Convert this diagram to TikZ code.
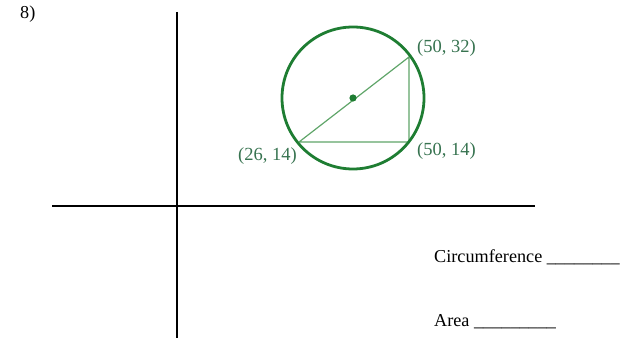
\documentclass[tikz,border=0pt]{standalone}
\usepackage{fontspec}
\setmainfont{Liberation Serif}
\definecolor{circgreen}{RGB}{30,125,50}
\definecolor{linegreen}{RGB}{95,165,105}
\definecolor{labgreen}{RGB}{55,115,80}
\begin{document}
\begin{tikzpicture}[x=1pt,y=-1pt,
  axis/.style={line width=2.8pt,black},
  lab/.style={font=\fontsize{18.5}{21}\selectfont,text=labgreen,inner sep=0pt},
  txt/.style={font=\fontsize{18.2}{21}\selectfont,inner sep=0pt,anchor=west}]
\useasboundingbox (0,0) rectangle (621,339);
\coordinate (yt) at (177,12);
\coordinate (yb) at (177,338);
\coordinate (xl) at (52,206);
\coordinate (xr) at (535,206);
\draw[axis] (yt) -- (yb);
\draw[axis] (xl) -- (xr);
\coordinate (c) at (353,98);
\coordinate (A) at (299,142);
\coordinate (B) at (409,57);
\coordinate (C) at (409,142);
\draw[linegreen,line width=1.2pt] (A) -- (B) -- (C) -- (A);
\draw[circgreen,line width=2.8pt] (c) circle (71);
\fill[circgreen] (c) circle (3.6);
\node[lab,anchor=west] (lB) at (417,48) {(50, 32)};
\node[lab,anchor=west] (lC) at (417,151) {(50, 14)};
\node[lab,anchor=east] (lA) at (297,156) {(26, 14)};
\node[txt] (num) at (20,14) {8)};
\node[txt] (circ) at (434,257) {Circumference \_\_\_\_\_\_\_\_};
\node[txt] (area) at (434,322) {Area \_\_\_\_\_\_\_\_\_};
\end{tikzpicture}
\end{document}
